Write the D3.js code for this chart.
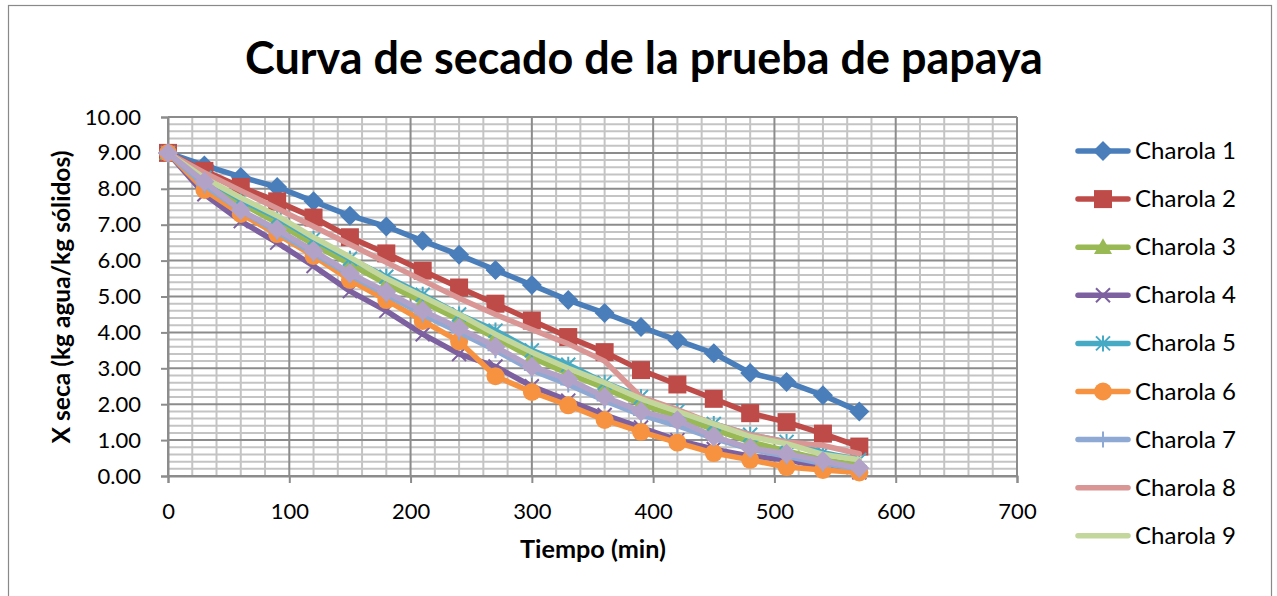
<!DOCTYPE html>
<html>
<head>
<meta charset="utf-8">
<script src="https://cdn.jsdelivr.net/npm/d3@7/dist/d3.min.js"></script>
<style>
  html, body { margin: 0; padding: 0; background: #fff; }
  svg { display: block; }
  text { font-family: Lato, "Open Sans", sans-serif; fill: #000; }
</style>
</head>
<body>
<svg id="chart" width="1277" height="596"></svg>
<script>
// ---------- DATA ----------
const tiempo = [0, 30, 60, 90, 120, 150, 180, 210, 240, 270, 300, 330, 360, 390, 420, 450, 480, 510, 540, 570];
const charola1 = [9, 8.65, 8.33, 8.05, 7.65, 7.25, 6.95, 6.55, 6.16, 5.74, 5.32, 4.9, 4.54, 4.15, 3.78, 3.42, 2.87, 2.62, 2.25, 1.8];
const charola2 = [9, 8.5, 8.05, 7.65, 7.2, 6.65, 6.2, 5.72, 5.25, 4.8, 4.33, 3.87, 3.45, 2.95, 2.55, 2.15, 1.75, 1.5, 1.18, 0.82];
const charola3 = [9, 8.25, 7.6, 7.05, 6.45, 5.9, 5.35, 4.85, 4.35, 3.85, 3.3, 2.85, 2.45, 2.0, 1.65, 1.3, 0.95, 0.7, 0.45, 0.3];
const charola4 = [9, 7.85, 7.1, 6.5, 5.85, 5.15, 4.6, 3.95, 3.4, 3.05, 2.5, 2.1, 1.7, 1.35, 1.0, 0.75, 0.55, 0.45, 0.25, 0.1];
const charola5 = [9, 8.3, 7.7, 7.2, 6.6, 6.05, 5.55, 5.05, 4.5, 4.05, 3.5, 3.1, 2.6, 2.2, 1.8, 1.45, 1.15, 0.95, 0.65, 0.45];
const charola6 = [9, 7.97, 7.3, 6.74, 6.13, 5.46, 4.9, 4.32, 3.75, 2.78, 2.34, 1.97, 1.56, 1.23, 0.93, 0.64, 0.45, 0.25, 0.17, 0.1];
const charola7 = [9, 8.1, 7.4, 6.8, 6.2, 5.6, 5.05, 4.5, 4.0, 3.5, 2.95, 2.55, 2.1, 1.7, 1.4, 1.05, 0.75, 0.55, 0.35, 0.2];
const charola8 = [9, 8.45, 7.95, 7.45, 6.95, 6.45, 5.95, 5.45, 4.95, 4.5, 4.08, 3.68, 3.2, 2.2, 1.85, 1.45, 1.15, 0.95, 0.85, 0.62];
const charola9 = [9, 8.3, 7.75, 7.25, 6.65, 6.1, 5.5, 5.0, 4.5, 3.95, 3.45, 3.0, 2.6, 2.15, 1.8, 1.45, 1.1, 0.9, 0.6, 0.45];
const charola10 = [9, 8.2, 7.4, 6.87, 6.27, 5.65, 5.13, 4.6, 4.12, 3.6, 3.04, 2.7, 2.2, 1.8, 1.55, 1.1, 0.78, 0.62, 0.42, 0.22];

const seriesNames = ["Charola 1", "Charola 2", "Charola 3", "Charola 4", "Charola 5", "Charola 6", "Charola 7", "Charola 8", "Charola 9", "Charola 10"];
const seriesValues = [charola1, charola2, charola3, charola4, charola5, charola6, charola7, charola8, charola9, charola10];
const seriesColors = ["#4A7EBB", "#BE4B48", "#98B954", "#7D60A0", "#46AAC5", "#F69240", "#8EA9D3", "#D99694", "#C3D69B", "#B3A2C7"];
const seriesMarkers = ["diamond", "square", "triangle", "x", "star", "circle", "plus", "none", "none", "diamond"];
const legendCount = 9; // legend in the reference shows the first nine entries

const xTicks = [0, 100, 200, 300, 400, 500, 600, 700];
const yTicks = [0, 1, 2, 3, 4, 5, 6, 7, 8, 9, 10];

const titleText = "Curva de secado de la prueba de papaya";
const xTitle = "Tiempo (min)";
const yTitle = "X seca (kg agua/kg sólidos)";

// ---------- LAYOUT ----------
const svg = d3.select("#chart");
const plot = { left: 168, right: 1017, top: 117, bottom: 476 };
const x = d3.scaleLinear().domain([0, 700]).range([plot.left, plot.right]);
const y = d3.scaleLinear().domain([0, 10]).range([plot.bottom, plot.top]);

function fitWidth(sel, target) {
  const fs = parseFloat(sel.attr("font-size"));
  const w = sel.node().getComputedTextLength();
  sel.attr("font-size", (fs * target / w).toFixed(2));
}

// outer chart border
svg.append("rect").attr("x", 8.5).attr("y", 5.5).attr("width", 1263).attr("height", 620)
  .attr("fill", "#fff").attr("stroke", "#898989").attr("stroke-width", 1.2);

// title
const title = svg.append("text").attr("x", 644).attr("y", 74).attr("text-anchor", "middle")
  .attr("font-weight", "bold").attr("font-size", 40).text(titleText);
fitWidth(title, 798);

// gridlines
const g = svg.append("g");
const minorX = d3.range(0, 701, 20).filter(v => v % 100 !== 0);
const minorY = d3.range(0, 51, 1).map(v => v / 5).filter(v => Math.abs(v - Math.round(v)) > 1e-6);
g.selectAll(".mx").data(minorX).join("line")
  .attr("x1", d => x(d)).attr("x2", d => x(d)).attr("y1", plot.top).attr("y2", plot.bottom)
  .attr("stroke", "#C4C4C4").attr("stroke-width", 2);
g.selectAll(".my").data(minorY).join("line")
  .attr("x1", plot.left).attr("x2", plot.right).attr("y1", d => y(d)).attr("y2", d => y(d))
  .attr("stroke", "#C4C4C4").attr("stroke-width", 2);
g.selectAll(".Mx").data(xTicks).join("line")
  .attr("x1", d => x(d)).attr("x2", d => x(d)).attr("y1", plot.top).attr("y2", plot.bottom)
  .attr("stroke", "#8C8C8C").attr("stroke-width", 2);
g.selectAll(".My").data(yTicks).join("line")
  .attr("x1", plot.left).attr("x2", plot.right).attr("y1", d => y(d)).attr("y2", d => y(d))
  .attr("stroke", "#8C8C8C").attr("stroke-width", 2);

// axes
const xAxis = svg.append("g").attr("transform", `translate(0,${plot.bottom})`)
  .call(d3.axisBottom(x).tickValues(xTicks).tickSize(7).tickPadding(20).tickFormat(d3.format("d")));
const yAxis = svg.append("g").attr("transform", `translate(${plot.left},0)`)
  .call(d3.axisLeft(y).tickValues(yTicks).tickSize(7).tickPadding(20).tickFormat(d3.format(".2f")));
[xAxis, yAxis].forEach(a => {
  a.select(".domain").attr("stroke", "#8C8C8C").attr("stroke-width", 2);
  a.selectAll(".tick line").attr("stroke", "#8C8C8C").attr("stroke-width", 2);
  a.selectAll(".tick text").attr("font-family", "Lato").attr("font-size", 22).attr("fill", "#000");
});
yAxis.selectAll(".tick text").attr("x", -27);

// axis titles
const xt = svg.append("text").attr("x", 593).attr("y", 558).attr("text-anchor", "middle")
  .attr("font-weight", "bold").attr("font-size", 22).text(xTitle);
fitWidth(xt, 146);
const yt = svg.append("text").attr("transform", "translate(70,297) rotate(-90)")
  .attr("text-anchor", "middle").attr("font-weight", "bold").attr("font-size", 22).text(yTitle);
fitWidth(yt, 293);

// markers
function drawMarker(sel, type, color, cx, cy) {
  const s = 9;
  if (type === "diamond") {
    sel.append("path").attr("d", `M${cx},${cy - s - 1}L${cx + s + 1},${cy}L${cx},${cy + s + 1}L${cx - s - 1},${cy}Z`).attr("fill", color);
  } else if (type === "square") {
    sel.append("rect").attr("x", cx - s).attr("y", cy - s).attr("width", 2 * s).attr("height", 2 * s).attr("fill", color);
  } else if (type === "triangle") {
    sel.append("path").attr("d", `M${cx},${cy - s}L${cx + s},${cy + s * 0.75}L${cx - s},${cy + s * 0.75}Z`).attr("fill", color);
  } else if (type === "circle") {
    sel.append("circle").attr("cx", cx).attr("cy", cy).attr("r", s).attr("fill", color);
  } else if (type === "x") {
    sel.append("path").attr("d", `M${cx - 7},${cy - 7}L${cx + 7},${cy + 7}M${cx - 7},${cy + 7}L${cx + 7},${cy - 7}`)
      .attr("stroke", color).attr("stroke-width", 2).attr("fill", "none");
  } else if (type === "star") {
    sel.append("path").attr("d", `M${cx - 7},${cy - 7}L${cx + 7},${cy + 7}M${cx - 7},${cy + 7}L${cx + 7},${cy - 7}M${cx},${cy - 8}L${cx},${cy + 8}`)
      .attr("stroke", color).attr("stroke-width", 2).attr("fill", "none");
  } else if (type === "plus") {
    sel.append("path").attr("d", `M${cx - 8},${cy}L${cx + 8},${cy}M${cx},${cy - 8}L${cx},${cy + 8}`)
      .attr("stroke", color).attr("stroke-width", 2).attr("fill", "none");
  }
}

// series
const line = d3.line().x(d => x(d[0])).y(d => y(d[1])).curve(d3.curveLinear);
const seriesG = svg.append("g");
seriesValues.forEach((vals, i) => {
  const pts = tiempo.map((t, j) => [t, vals[j]]);
  const gs = seriesG.append("g");
  gs.append("path").datum(pts).attr("d", line).attr("fill", "none")
    .attr("stroke", seriesColors[i]).attr("stroke-width", 5.5)
    .attr("stroke-linejoin", "round").attr("stroke-linecap", "round");
  pts.forEach(p => drawMarker(gs, seriesMarkers[i], seriesColors[i], x(p[0]), y(p[1])));
});

// legend
const leg = svg.append("g");
for (let i = 0; i < legendCount; i++) {
  const ly = 151 + i * 48.1;
  const gi = leg.append("g");
  gi.append("line").attr("x1", 1078).attr("x2", 1128).attr("y1", ly).attr("y2", ly)
    .attr("stroke", seriesColors[i]).attr("stroke-width", 5.5).attr("stroke-linecap", "round");
  drawMarker(gi, seriesMarkers[i], seriesColors[i], 1103, ly);
  const t = gi.append("text").attr("x", 1135).attr("y", ly + 8).attr("font-size", 22).text(seriesNames[i]);
  fitWidth(t, 101);
}
</script>
</body>
</html>
